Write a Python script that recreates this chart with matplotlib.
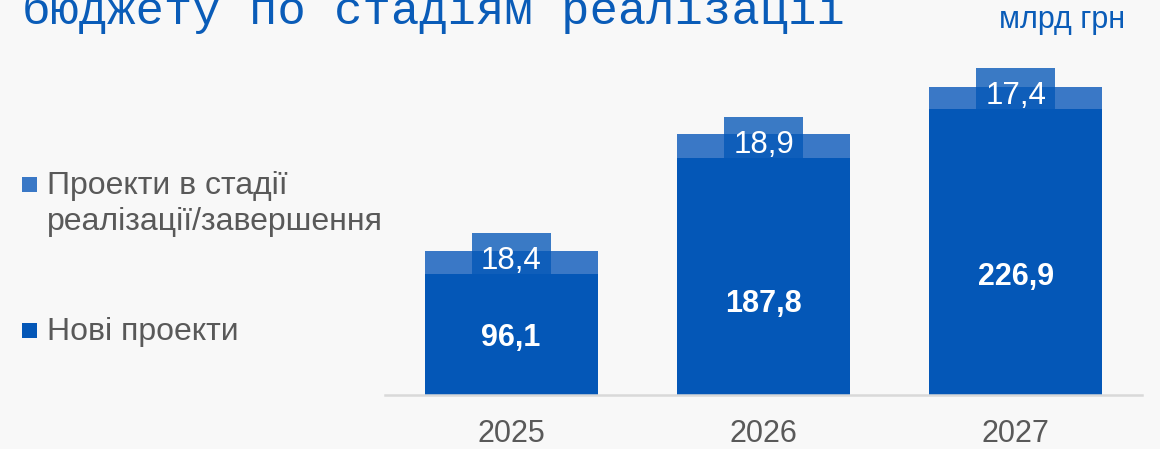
import matplotlib
matplotlib.use('Agg')
import matplotlib.pyplot as plt
from matplotlib.patches import Rectangle

# ---- data ----
years = ['2025', '2026', '2027']
new_projects = [96.1, 187.8, 226.9]
ongoing_projects = [18.4, 18.9, 17.4]
legend_labels = ['Проекти в стадії\nреалізації/завершення', 'Нові проекти']
title_text = 'бюджету по стадіям реалізації'
unit_text = 'млрд грн'

# ---- style ----
DARK = '#0457b7'
LIGHT = '#3a78c6'
BG = '#f8f8f8'
GRAY = '#595959'
TITLE_BLUE = '#0a5cb8'
plt.rcParams['font.family'] = ['Liberation Sans', 'DejaVu Sans']

W, H = 1160, 449
fig = plt.figure(figsize=(W / 100, H / 100), dpi=100, facecolor=BG)

def fx(px):
    return px / W

def fy(py):
    return 1 - py / H

ax = fig.add_axes([fx(385), 54 / H, 757 / W, 378.6 / H])
ax.set_facecolor(BG)
xs = list(range(len(years)))
bw = 0.686
ax.bar(xs, new_projects, width=bw, color=DARK, zorder=2)
ax.bar(xs, ongoing_projects, bottom=new_projects, width=bw, color=LIGHT, zorder=2)
ax.set_xlim(-0.5, 2.5)
ax.set_ylim(0, 300)
for s in ['top', 'left', 'right']:
    ax.spines[s].set_visible(False)
ax.spines['bottom'].set_color('#d9d9d9')
ax.spines['bottom'].set_linewidth(1.8)
ax.set_yticks([])
ax.set_xticks(xs, years)
ax.tick_params(axis='x', length=0, labelsize=22, colors=GRAY, pad=17)

label_frac = [0.40, 0.35, 0.385]
box_w = 0.313
box_h = 32.5
for i, (n, o) in enumerate(zip(new_projects, ongoing_projects)):
    ax.text(i, n * label_frac[i], f'{n:.1f}'.replace('.', ','), ha='center', va='baseline',
            color='white', fontsize=22, fontweight='bold', zorder=5)
    ax.add_patch(Rectangle((i - box_w / 2, n), box_w, box_h, facecolor=DARK, alpha=0.78,
                           edgecolor='none', zorder=3))
    ax.text(i, n + 4.0, f'{o:.1f}'.replace('.', ','), ha='center', va='baseline',
            color='white', fontsize=22.5, zorder=5)

# title (cut off at the top, as in the original) and unit
fig.text(fx(22), fy(24), title_text, fontsize=34, color=TITLE_BLUE,
         family=['Liberation Mono', 'DejaVu Sans Mono'], ha='left', va='baseline')
fig.text(fx(1062), fy(28), unit_text, fontsize=22, color=TITLE_BLUE, ha='center', va='baseline')

# legend
sq = 15
fig.patches.append(Rectangle((fx(22), fy(192)), sq / W, sq / H, transform=fig.transFigure,
                             facecolor=LIGHT, edgecolor='none'))
fig.patches.append(Rectangle((fx(22), fy(338)), sq / W, sq / H, transform=fig.transFigure,
                             facecolor=DARK, edgecolor='none'))
fig.text(fx(47), fy(194), legend_labels[0].split('\n')[0], fontsize=23, color=GRAY, va='baseline')
fig.text(fx(47), fy(230), legend_labels[0].split('\n')[1], fontsize=23, color=GRAY, va='baseline')
fig.text(fx(47), fy(340), legend_labels[1], fontsize=23, color=GRAY, va='baseline')

fig.savefig('out.png', dpi=100, facecolor=BG)
